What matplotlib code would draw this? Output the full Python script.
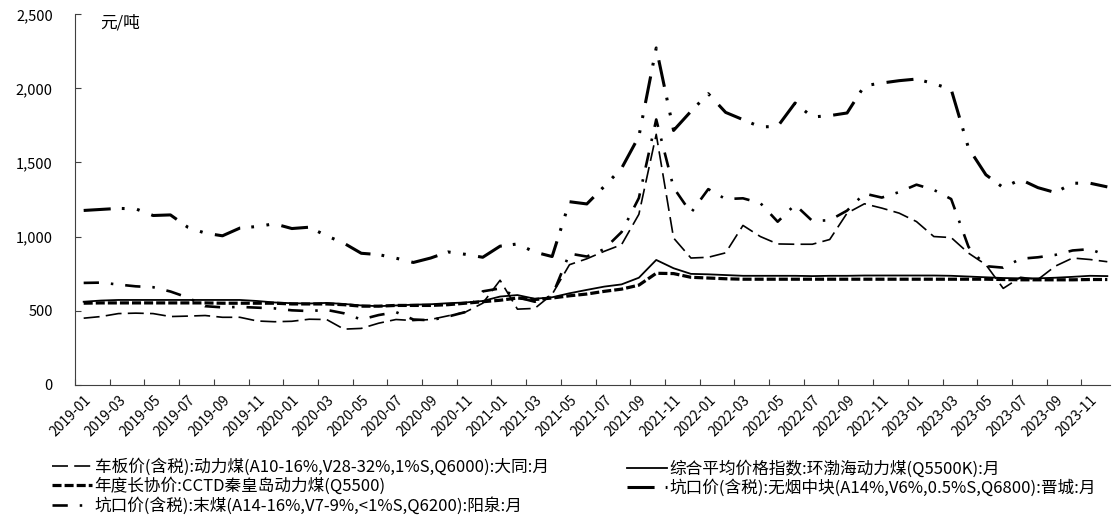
import numpy as np
import matplotlib
matplotlib.use("Agg")
import matplotlib.pyplot as plt
from matplotlib.transforms import ScaledTranslation

plt.rcParams['font.family'] = ['Noto Sans CJK SC', 'DejaVu Sans']
plt.rcParams['lines.scale_dashes'] = False

# months 2019-01 .. 2023-12
months = [f"{y}-{m:02d}" for y in range(2019, 2024) for m in range(1, 13)]

# 车板价(含税):动力煤 大同
datong = [449, 460, 480, 483, 480, 460, 463, 467, 455, 455, 430, 425,
          428, 442, 440, 375, 380, 415, 440, 433, 440, 465, 490, 550,
          705, 510, 515, 610, 810, 850, 900, 945, 1150, 1690, 990, 855,
          860, 890, 1075, 1000, 950, 948, 948, 980, 1158, 1221, 1192, 1158,
          1101, 1000, 993, 888, 810, 650, 725, 710, 800, 855, 845, 830]

# 综合平均价格指数:环渤海动力煤
bohai = [560, 568, 572, 572, 572, 572, 572, 572, 572, 572, 565, 555,
         550, 548, 552, 545, 535, 530, 535, 540, 543, 550, 555, 565,
         595, 605, 580, 590, 617, 640, 662, 677, 722, 842, 786, 748,
         745, 740, 735, 735, 735, 735, 733, 735, 735, 737, 737, 737,
         737, 737, 735, 730, 725, 720, 718, 718, 722, 728, 735, 733]

# 年度长协价:CCTD秦皇岛动力煤
cctd = [550, 552, 552, 552, 552, 552, 552, 552, 550, 550, 550, 550,
        545, 545, 545, 540, 530, 530, 535, 535, 535, 540, 550, 560,
        570, 585, 575, 585, 600, 612, 630, 645, 672, 752, 750, 725,
        720, 715, 712, 712, 712, 712, 712, 712, 712, 712, 712, 712,
        712, 712, 712, 712, 712, 710, 708, 708, 708, 708, 710, 710]

# 坑口价(含税):无烟中块 晋城
jincheng = [1176, 1183, 1190, 1187, 1142, 1146, 1063, 1023, 1005, 1057, 1068, 1086,
            1054, 1063, 1005, 955, 887, 878, 854, 825, 855, 896, 880, 860,
            935, 950, 895, 865, 1235, 1220, 1338, 1460, 1676, 2273, 1716, 1845,
            1964, 1838, 1789, 1740, 1743, 1901, 1807, 1816, 1834, 2018, 2036, 2052,
            2063, 2032, 1993, 1597, 1417, 1330, 1385, 1330, 1297, 1360, 1360, 1335]

# 坑口价(含税):末煤 阳泉
yangquan = [687, 689, 676, 664, 658, 629, 588, 530, 522, 525, 520, 515,
            502, 497, 505, 482, 440, 470, 490, 440, 435, 460, 490, 630,
            650, 590, 560, 600, 885, 865, 915, 1030, 1260, 1790, 1330, 1160,
            1320, 1253, 1258, 1226, 1100, 1215, 1105, 1110, 1175, 1290, 1263, 1300,
            1350, 1315, 1253, 930, 800, 790, 850, 860, 876, 906, 915, 870]

labels = [
    "车板价(含税):动力煤(A10-16%,V28-32%,1%S,Q6000):大同:月",
    "综合平均价格指数:环渤海动力煤(Q5500K):月",
    "年度长协价:CCTD秦皇岛动力煤(Q5500)",
    "坑口价(含税):无烟中块(A14%,V6%,0.5%S,Q6800):晋城:月",
    "坑口价(含税):末煤(A14-16%,V7-9%,<1%S,Q6200):阳泉:月",
]

x = np.arange(len(months)) + 0.5

fig = plt.figure(figsize=(11.13, 5.27), dpi=100)
ax = fig.add_axes([75 / 1113, 1 - 384.7 / 527, (1110 - 75) / 1113, (384.7 - 14.3) / 527])

l1, = ax.plot(x, datong, color="black", lw=1.2, linestyle=(0, (11.5, 4.5)))
l2, = ax.plot(x, bohai, color="black", lw=1.3)
l3, = ax.plot(x, cctd, color="black", lw=2.3, linestyle=(0, (6.5, 2.2)))
l4, = ax.plot(x, jincheng, color="black", lw=2.2,
              linestyle=(0, (19.5, 8, 2, 9, 2, 9)))
l5, = ax.plot(x, yangquan, color="black", lw=1.9, linestyle=(0, (11, 8.6, 1.8, 8.6)))

ax.set_xlim(0, (1110 - 75) / 17.35)
ax.set_ylim(0, 2500)
ax.set_yticks(np.arange(0, 2501, 500))
ax.set_yticklabels([f"{v:,}" for v in range(0, 2501, 500)], fontsize=10.5)

tick_pos = np.arange(0, 60, 2)
ax.set_xticks(tick_pos)
ax.set_xticklabels([])
off = ScaledTranslation(0.09, -0.08, fig.dpi_scale_trans)
for p, lab in zip(tick_pos, months[::2]):
    ax.text(p, 0, lab, transform=ax.get_xaxis_transform() + off, rotation=45,
            ha="right", va="top", rotation_mode="anchor", fontsize=10)

ax.spines["top"].set_visible(False)
ax.spines["right"].set_visible(False)
for s in ["left", "bottom"]:
    ax.spines[s].set_color("#404040")
ax.tick_params(axis="both", direction="in", length=4, color="#404040")
ax.tick_params(axis="y", pad=16)

fig.text(100 / 1113, 1 - 23 / 527, "元/吨", fontsize=12, va="center", ha="left")

fig.legend([l1, l3, l5], [labels[0], labels[2], labels[4]], loc="upper left",
           bbox_to_anchor=(52 / 1113, 1 - 458 / 527), frameon=False, fontsize=12,
           borderpad=0, borderaxespad=0, handlelength=2.4, handletextpad=0.15,
           labelspacing=0.12)
fig.legend([l2, l4], [labels[1], labels[3]], loc="upper left",
           bbox_to_anchor=(627 / 1113, 1 - 460 / 527), frameon=False, fontsize=12,
           borderpad=0, borderaxespad=0, handlelength=2.4, handletextpad=0.15,
           labelspacing=0.12)

fig.savefig("out.png", dpi=100)
